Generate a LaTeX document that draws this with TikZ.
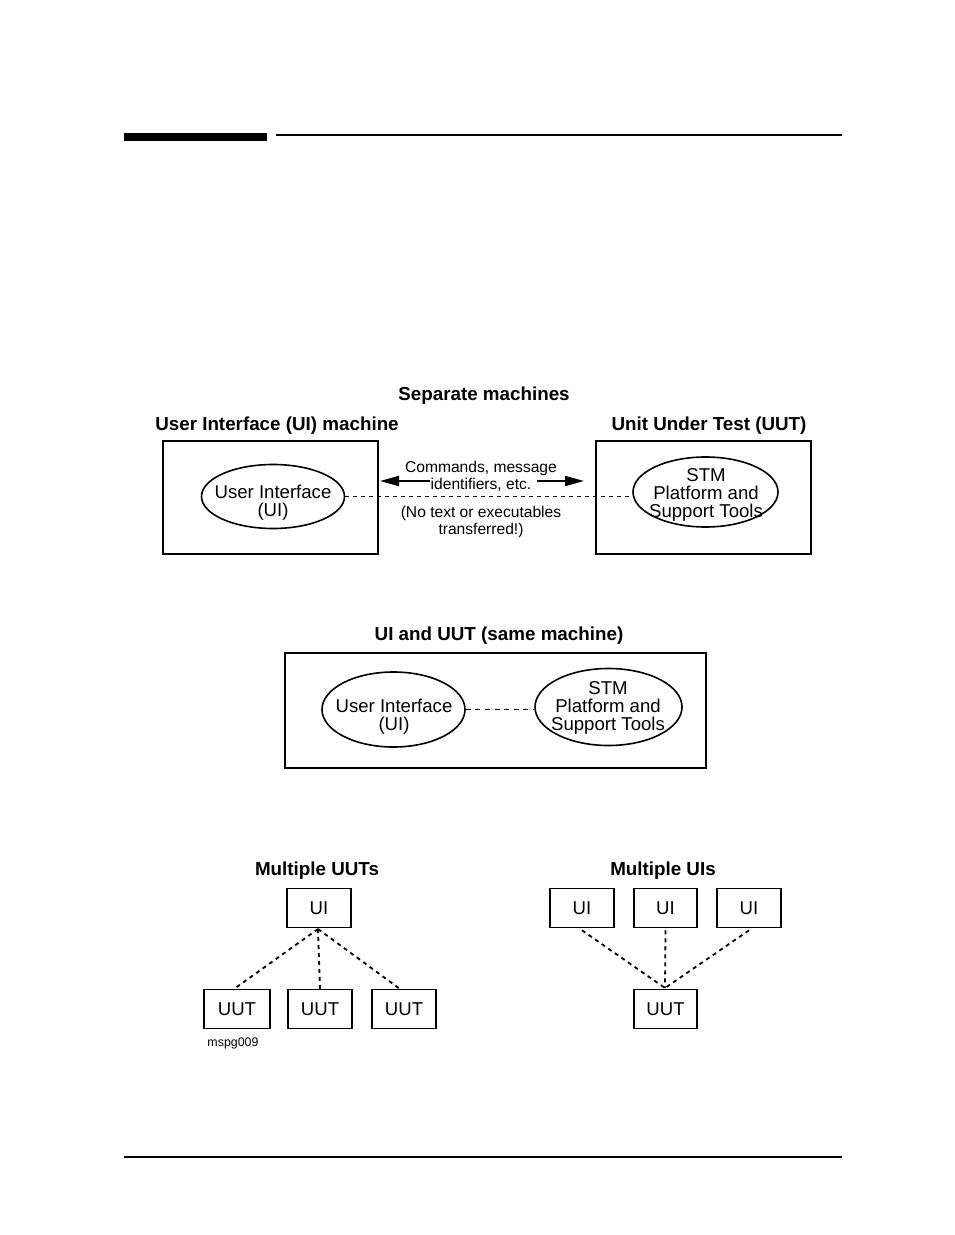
\documentclass[tikz,border=0pt]{standalone}
\usepackage{fontspec}
\setmainfont{Liberation Sans}
\usetikzlibrary{arrows.meta,shapes.geometric}

\tikzset{
  machine/.style={draw, line width=1pt, inner sep=0pt},
  proc/.style={draw, ellipse, line width=0.8pt, inner sep=0pt},
  proctext/.style={align=center, inner sep=0pt, font=\fontsize{9.3}{9}\selectfont},
  unit/.style={draw, line width=0.8pt, inner sep=0pt, minimum width=32pt,
    minimum height=19.5pt, font=\fontsize{9.3}{9.4}\selectfont},
  heading/.style={font=\fontsize{9.4}{10}\selectfont\bfseries},
  note/.style={align=center, font=\fontsize{7.8}{8.6}\selectfont},
  link/.style={line width=0.9pt, dash pattern=on 2pt off 2pt},
  push/.style={line width=1pt, -{Triangle[length=9.5pt,width=5pt]}}
}

\begin{document}
\begin{tikzpicture}[x=0.5pt, y=-0.5pt]
  \useasboundingbox (0, 0) rectangle (954, 1235);

  % page rules
  \fill (124, 133) rectangle (267, 141);
  \draw [line width=0.6pt] (276, 135) -- (842, 135);
  \draw [line width=0.6pt] (124, 1157) -- (842, 1157);

  % separate machines
  \node [heading] at (484, 396) {Separate machines};
  \node [heading] at (277, 426) {User Interface (UI) machine};
  \node [heading] at (709, 426) {Unit Under Test (UUT)};
  \node [machine, minimum width=107.5pt, minimum height=56.5pt] (uibox) at (270.5, 497.5) {};
  \node [machine, minimum width=107.5pt, minimum height=56.5pt] (uutbox) at (703.5, 497.5) {};
  \node [proc, minimum width=71.5pt, minimum height=32pt] (uiell) at (273, 496.5) {};
  \node [proctext] (uitext) at (273, 503) {User Interface\\(UI)};
  \node [proc, minimum width=72.5pt, minimum height=35pt] (stmell) at (705.5, 492) {};
  \node [proctext] (stmtext) at (706, 495) {STM\\Platform and\\Support Tools};
  \draw [link] (uiell.east) -- (uiell.east -| stmell.west);

  \node [note] (cmd) at (481, 476) {Commands, message\\identifiers, etc.};
  \node [note] (nocopy) at (481, 522) {(No text or executables\\transferred!)};
  \coordinate (cmdl) at (430, 481);
  \coordinate (cmdr) at (537, 481);
  \coordinate (tipl) at (380, 481);
  \coordinate (tipr) at (584, 481);
  \draw [push] (cmdl) -- (tipl);
  \draw [push] (cmdr) -- (tipr);

  % same machine
  \node [heading] at (499, 636) {UI and UUT (same machine)};
  \node [machine, minimum width=210.5pt, minimum height=57.5pt] (samebox) at (495.5, 710.5) {};
  \node [proc, minimum width=71.5pt, minimum height=37.5pt] (uiell2) at (393.5, 709.5) {};
  \node [proctext] (uitext2) at (394, 717) {User Interface\\(UI)};
  \node [proc, minimum width=73.5pt, minimum height=38.5pt] (stmell2) at (608.5, 707) {};
  \node [proctext] (stmtext2) at (608, 708) {STM\\Platform and\\Support Tools};
  \draw [link, dash pattern=on 2.5pt off 2.3pt] (uiell2.east) -- (uiell2.east -| stmell2.west);

  % multiple UUTs
  \node [heading] at (317, 871) {Multiple UUTs};
  \node [unit] (ui) at (319, 908) {UI};
  \node [unit, minimum width=33pt] (uut1) at (237, 1009) {UUT};
  \node [unit] (uut2) at (320, 1009) {UUT};
  \node [unit] (uut3) at (404, 1009) {UUT};
  \coordinate (uifoot) at (318, 929);
  \draw [link] (uifoot) -- ([xshift=-2pt, yshift=-0.5pt]uut1.north);
  \draw [link] (uifoot) -- ([yshift=-0.5pt]uut2.north);
  \draw [link] (uifoot) -- ([xshift=-1.5pt, yshift=-0.5pt]uut3.north);
  \node [font=\fontsize{6.2}{7}\selectfont] (figid) at (233, 1043) {mspg009};

  % multiple UIs
  \node [heading] at (663, 871) {Multiple UIs};
  \node [unit] (uia) at (582, 908) {UI};
  \node [unit, minimum width=31.5pt] (uib) at (665.5, 908) {UI};
  \node [unit] (uic) at (749, 908) {UI};
  \node [unit, minimum width=31.5pt] (uutx) at (665.5, 1009) {UUT};
  \coordinate (uuthead) at (665, 988);
  \draw [link] ([yshift=-1pt]uia.south) -- (uuthead);
  \draw [link] ([yshift=-1pt]uib.south) -- (uuthead);
  \draw [link] ([yshift=-1pt]uic.south) -- (uuthead);
\end{tikzpicture}
\end{document}
